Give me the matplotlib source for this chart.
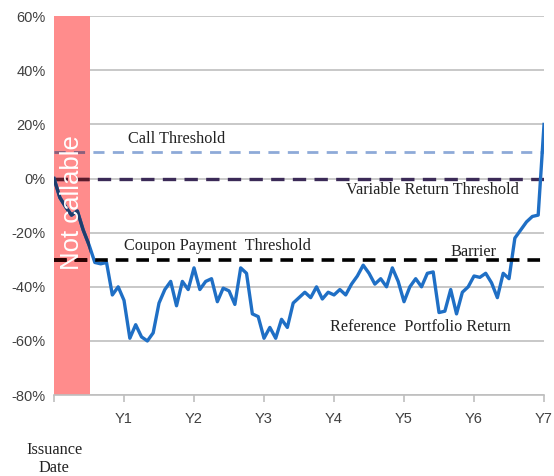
import matplotlib
matplotlib.use("Agg")
import matplotlib.pyplot as plt
import numpy as np

# monthly reference portfolio return (%), issuance to year 7
months = np.arange(85)
portfolio = [0, -7, -10.5, -13.5, -12, -19, -24.5, -31, -31.5, -31,
             -43, -40, -45, -59, -54, -58.5, -60, -57, -46, -41,
             -38, -47, -38, -41, -33, -41, -38, -37, -45.5, -40.5,
             -41.5, -46.5, -33, -35, -50, -51, -59, -55, -59, -52,
             -55, -46, -44, -42, -44, -40, -44.5, -42, -43, -41,
             -43, -39, -36, -32, -35, -39, -37, -40, -33, -38,
             -45.5, -40, -37, -40, -35, -34.5, -49.5, -49, -41, -50,
             -42, -40, -36, -36.5, -35, -38.5, -44, -35, -37, -22,
             -19, -16, -14, -13.5, 20]

call_threshold = 10
variable_threshold = 0
coupon_threshold = -30
not_callable_end = 0.52  # years

year_ticks = [0, 1, 2, 3, 4, 5, 6, 7]
year_labels = ["", "Y1", "Y2", "Y3", "Y4", "Y5", "Y6", "Y7"]
y_ticks = [-80, -60, -40, -20, 0, 20, 40, 60]

fig = plt.figure(figsize=(5.54, 4.76), dpi=100)
ax = fig.add_axes([0.0975, 0.170, 0.8845, 0.796])

years = months / 12.0

# the not-callable band, drawn under the lines
band = ax.axvspan(0, not_callable_end, color="#ff8c8c", lw=0, zorder=1.5)

ax.plot(years, portfolio, color="#1f6fc5", lw=2.4, zorder=3)
ax.axhline(call_threshold, color="#8eaad8", lw=2, ls=(0, (4, 3)), zorder=2)
ax.axhline(variable_threshold, color="#3b2a57", lw=2.4, ls=(0, (4, 2.5)), zorder=2)
ax.axhline(coupon_threshold, color="black", lw=2.6, ls=(0, (3.5, 2.2)), zorder=4)

# darker copies inside the band (looks like the lines seen through red)
inner = [
    ax.plot(years, portfolio, color="#1f3d6c", lw=2.4, zorder=3.1)[0],
    ax.axhline(call_threshold, color="#8e5d77", lw=2, ls=(0, (4, 3)), zorder=2.1),
    ax.axhline(variable_threshold, color="#5a1a2a", lw=2.4, ls=(0, (4, 2.5)), zorder=2.1),
    ax.axhline(coupon_threshold, color="#2a0000", lw=2.6, ls=(0, (3.5, 2.2)), zorder=4.1),
]
for ln in inner:
    ln.set_clip_path(band)

ax.text(not_callable_end / 2, -9, "Not callable", rotation=90, color="white",
        fontsize=18.5, family="Liberation Sans", ha="center", va="center", zorder=6)

serif = dict(family="Liberation Serif", fontsize=11.7, color="#222222", zorder=7)
ax.text(1.06, 14.8, "Call Threshold", va="center", **serif)
ax.text(4.17, -4.4, "Variable Return Threshold", va="center", **serif)
ax.text(1.0, -25, "Coupon Payment  Threshold", va="center", **serif)
ax.text(5.66, -27, "Barrier", va="center", **serif)
ax.text(3.94, -55, "Reference  Portfolio Return", va="center", **serif)

ax.set_xlim(0, 7)
ax.set_ylim(-80, 60)
ax.set_yticks(y_ticks)
ax.set_yticklabels([f"{v}%" for v in y_ticks])
ax.set_xticks(year_ticks)
ax.set_xticklabels(year_labels)
ax.yaxis.grid(True, color="#bfbfbf", lw=1.2)
ax.set_axisbelow(True)

for s in ["top", "right", "left"]:
    ax.spines[s].set_visible(False)
ax.spines["bottom"].set_color("#bfbfbf")
ax.spines["bottom"].set_linewidth(1.2)
ax.tick_params(axis="y", length=0, pad=6, labelsize=10.5, labelcolor="#404040")
ax.tick_params(axis="x", length=5, width=1.2, color="#bfbfbf", pad=7,
               labelsize=10.5, labelcolor="#404040")
for lbl in ax.get_xticklabels() + ax.get_yticklabels():
    lbl.set_family("Liberation Sans")

fig.text(54 / 554, 1 - 459 / 476, "Issuance\nDate", ha="center", va="center",
         family="Liberation Serif", fontsize=11.7, color="#222222", linespacing=1.25)

fig.savefig("out.png", dpi=100)
